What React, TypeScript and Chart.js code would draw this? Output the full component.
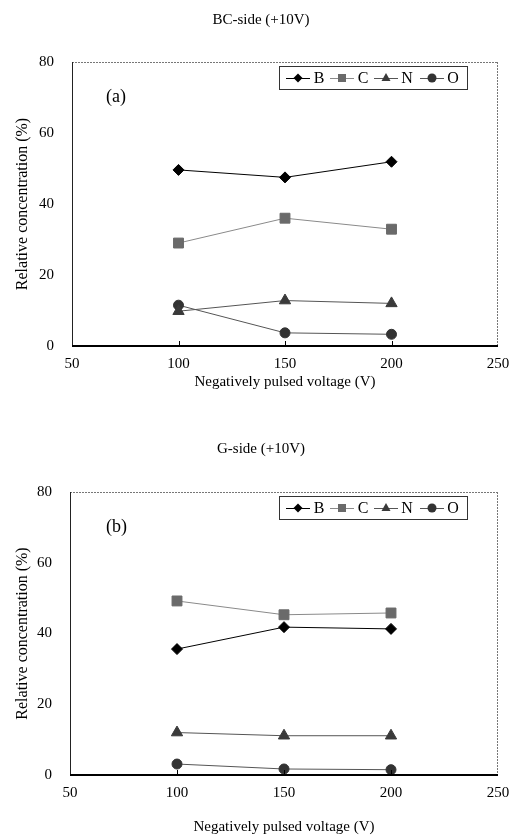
import React, { useEffect, useRef } from "react";
import { Chart, registerables } from "chart.js";

Chart.register(...registerables);

const voltages = [100, 150, 200];
const seriesNames = ["B", "C", "N", "O"];

// Panel (a) BC-side
const bcB = [49.6, 47.5, 51.9];
const bcC = [29.0, 36.0, 32.9];
const bcN = [9.8, 12.8, 12.0];
const bcO = [11.5, 3.7, 3.3];

// Panel (b) G-side
const gB = [35.6, 41.8, 41.3];
const gC = [49.2, 45.3, 45.8];
const gN = [12.0, 11.1, 11.1];
const gO = [3.1, 1.7, 1.5];

const xTicks = [50, 100, 150, 200, 250];
const yTicks = [0, 20, 40, 60, 80];

const FONT = "'Liberation Serif', 'Times New Roman', serif";

const styles = [
  { pointStyle: "rectRot", color: "#000000", line: "#000000", radius: 5.5, lr: 4.5 },
  { pointStyle: "rect", color: "#6a6a6a", line: "#8a8a8a", radius: 7, lr: 5 },
  { pointStyle: "triangle", color: "#3a3a3a", line: "#555555", radius: 6.5, lr: 5 },
  { pointStyle: "circle", color: "#333333", line: "#555555", radius: 5, lr: 4.5 },
];

type PanelCfg = {
  title: string;
  label: string;
  series: number[][];
  top: number;
  bottom: number;
  left: number;
  titleY: number;
  xTitlePad: number;
  legendY: number;
  labelY: number;
};

function drawMarker(ctx: CanvasRenderingContext2D, style: string, x: number, y: number, r: number, color: string) {
  ctx.save();
  ctx.fillStyle = color;
  ctx.beginPath();
  if (style === "rectRot") {
    ctx.moveTo(x, y - r);
    ctx.lineTo(x + r, y);
    ctx.lineTo(x, y + r);
    ctx.lineTo(x - r, y);
  } else if (style === "rect") {
    ctx.rect(x - r * 0.8, y - r * 0.8, r * 1.6, r * 1.6);
  } else if (style === "triangle") {
    ctx.moveTo(x, y - r);
    ctx.lineTo(x + r * 0.9, y + r * 0.6);
    ctx.lineTo(x - r * 0.9, y + r * 0.6);
  } else {
    ctx.arc(x, y, r, 0, Math.PI * 2);
  }
  ctx.closePath();
  ctx.fill();
  ctx.restore();
}

function Panel({ cfg }: { cfg: PanelCfg }) {
  const ref = useRef<HTMLCanvasElement | null>(null);
  useEffect(() => {
    if (!ref.current) return;
    const decor = {
      id: "decor",
      afterDraw(chart: any) {
        const ctx: CanvasRenderingContext2D = chart.ctx;
        const a = chart.chartArea;
        const xs = chart.scales.x;
        ctx.save();
        // frame: top and right dotted gray
        ctx.strokeStyle = "#777";
        ctx.lineWidth = 1;
        ctx.setLineDash([2, 1]);
        ctx.beginPath();
        ctx.moveTo(a.left, a.top + 0.5);
        ctx.lineTo(a.right, a.top + 0.5);
        ctx.moveTo(a.right - 0.5, a.top);
        ctx.lineTo(a.right - 0.5, a.bottom);
        ctx.stroke();
        ctx.setLineDash([]);
        // left axis
        ctx.strokeStyle = "#222";
        ctx.beginPath();
        ctx.moveTo(a.left + 0.5, a.top);
        ctx.lineTo(a.left + 0.5, a.bottom);
        ctx.stroke();
        // bottom axis
        ctx.strokeStyle = "#000";
        ctx.lineWidth = 2;
        ctx.beginPath();
        ctx.moveTo(a.left, a.bottom);
        ctx.lineTo(a.right, a.bottom);
        ctx.stroke();
        // x tick marks inward
        ctx.lineWidth = 1;
        for (const v of [100, 150, 200]) {
          const px = Math.round(xs.getPixelForValue(v)) + 0.5;
          ctx.beginPath();
          ctx.moveTo(px, a.bottom);
          ctx.lineTo(px, a.bottom - 5);
          ctx.stroke();
        }
        // chart title
        ctx.fillStyle = "#000";
        ctx.font = `15px ${FONT}`;
        ctx.textAlign = "center";
        ctx.textBaseline = "middle";
        ctx.fillText(cfg.title, 261, cfg.titleY);
        // panel label
        ctx.font = `18px ${FONT}`;
        ctx.textAlign = "left";
        ctx.fillText(cfg.label, 106, cfg.labelY);
        // legend
        const lx0 = 279, lx1 = 467, ly = cfg.legendY;
        ctx.strokeStyle = "#333";
        ctx.lineWidth = 1;
        ctx.strokeRect(lx0 + 0.5, ly - 11.5, lx1 - lx0, 23);
        const markerX = [298, 342, 386, 432];
        const letterX = [319, 363, 407, 453];
        ctx.font = `16px ${FONT}`;
        ctx.textAlign = "center";
        for (let i = 0; i < 4; i++) {
          const s = styles[i];
          ctx.strokeStyle = s.line;
          ctx.beginPath();
          ctx.moveTo(markerX[i] - 12, ly + 0.5);
          ctx.lineTo(markerX[i] + 12, ly + 0.5);
          ctx.stroke();
          drawMarker(ctx, s.pointStyle, markerX[i], ly, s.lr, s.color);
          ctx.fillStyle = "#000";
          ctx.fillText(seriesNames[i], letterX[i], ly + 1);
        }
        ctx.restore();
      },
    };
    const chart = new Chart(ref.current, {
      type: "line",
      data: {
        datasets: cfg.series.map((vals, i) => ({
          label: seriesNames[i],
          data: voltages.map((v, j) => ({ x: v, y: vals[j] })),
          borderColor: styles[i].line,
          backgroundColor: styles[i].color,
          pointBackgroundColor: styles[i].color,
          pointBorderColor: styles[i].color,
          pointStyle: styles[i].pointStyle as any,
          pointRadius: styles[i].radius,
          borderWidth: 1,
          tension: 0,
        })),
      },
      options: {
        animation: false,
        responsive: false,
        maintainAspectRatio: false,
        layout: { padding: { left: 0, right: 14, top: cfg.top, bottom: 0 } },
        plugins: { legend: { display: false }, title: { display: false }, tooltip: { enabled: false } },
        scales: {
          x: {
            type: "linear",
            min: 50,
            max: 250,
            afterBuildTicks: (s: any) => { s.ticks = xTicks.map((v) => ({ value: v })); },
            afterFit: (s: any) => {
              s.height = 418 - cfg.bottom;
              s.paddingLeft = 0;
              s.paddingRight = 0;
            },
            grid: { display: false, drawTicks: false },
            border: { display: false },
            ticks: { color: "#000", font: { family: FONT, size: 15, weight: "normal" }, padding: 9, maxRotation: 0 },
            title: {
              display: true,
              text: "Negatively pulsed voltage (V)",
              color: "#000",
              font: { family: FONT, size: 15, weight: "normal" },
              padding: { top: 0, bottom: cfg.xTitlePad },
            },
          },
          y: {
            type: "linear",
            min: 0,
            max: 80,
            afterBuildTicks: (s: any) => { s.ticks = yTicks.map((v) => ({ value: v })); },
            afterFit: (s: any) => {
              s.width = cfg.left;
              s.paddingTop = 0;
              s.paddingBottom = 0;
            },
            grid: { display: false, drawTicks: false },
            border: { display: false },
            ticks: { color: "#000", font: { family: FONT, size: 15, weight: "normal" }, padding: 18 },
            title: {
              display: true,
              text: "Relative concentration (%)",
              color: "#000",
              font: { family: FONT, size: 16, weight: "normal" },
              padding: { top: 13, bottom: 0 },
            },
          },
        },
      },
      plugins: [decor],
    });
    return () => chart.destroy();
  }, [cfg]);
  return <canvas ref={ref} width={512} height={418} style={{ display: "block", width: 512, height: 418 }} />;
}

const panelA: PanelCfg = {
  title: "BC-side (+10V)",
  label: "(a)",
  series: [bcB, bcC, bcN, bcO],
  top: 62,
  bottom: 346,
  left: 72,
  titleY: 20,
  xTitlePad: 27,
  legendY: 78,
  labelY: 97,
};

const panelB: PanelCfg = {
  title: "G-side (+10V)",
  label: "(b)",
  series: [gB, gC, gN, gO],
  top: 74,
  bottom: 357,
  left: 70,
  titleY: 31,
  xTitlePad: 0,
  legendY: 90,
  labelY: 109,
};

export default function App() {
  useEffect(() => {
    document.body.style.margin = "0";
  }, []);
  return (
    <div style={{ position: "relative", width: 512, height: 836, background: "#fff" }}>
      <div style={{ position: "absolute", left: 0, top: 0 }}>
        <Panel cfg={panelA} />
      </div>
      <div style={{ position: "absolute", left: 0, top: 418 }}>
        <Panel cfg={panelB} />
      </div>
    </div>
  );
}
